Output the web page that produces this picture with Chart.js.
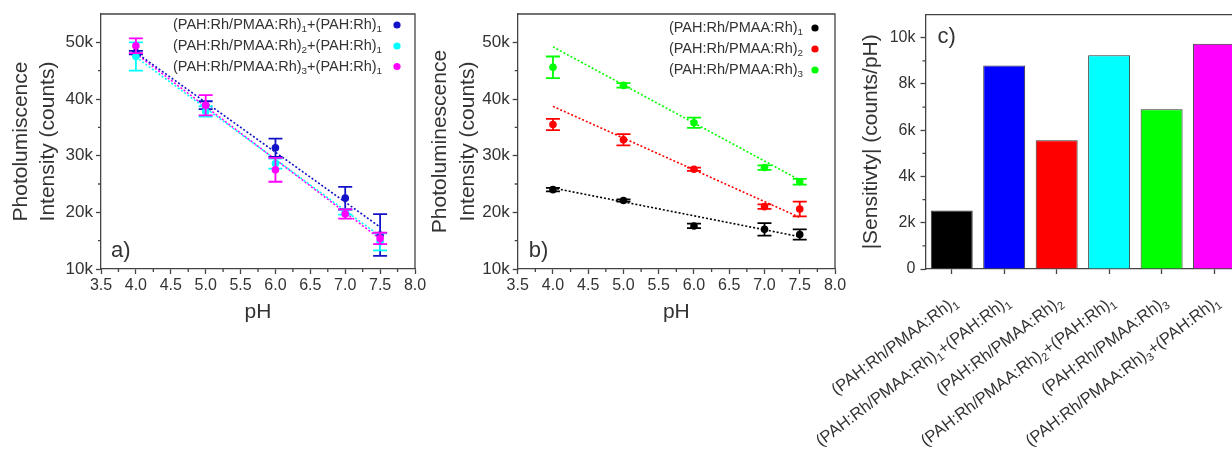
<!DOCTYPE html>
<html>
<head>
<meta charset="utf-8">
<script src="https://cdn.jsdelivr.net/npm/chart.js@4.4.1/dist/chart.umd.min.js"></script>
<style>
  html, body { margin: 0; padding: 0; background: #fff; overflow: hidden; width: 1232px; height: 458px; }
  canvas { position: absolute; top: 0; }
  #chartA { left: 0; }
  #chartB { left: 425px; }
  #chartC { left: 780px; }
</style>
</head>
<body>
<canvas id="chartA" width="430" height="330"></canvas>
<canvas id="chartB" width="425" height="330"></canvas>
<canvas id="chartC" width="480" height="458"></canvas>
<script>
// --- data ---
const phValues = [4.0, 5.0, 6.0, 7.0, 7.5];
const fitPh = [4.0, 7.5];
const phTicks = [3.5, 4.0, 4.5, 5.0, 5.5, 6.0, 6.5, 7.0, 7.5, 8.0];
const phMinorTicks = [3.75, 4.25, 4.75, 5.25, 5.75, 6.25, 6.75, 7.25, 7.75];
const countTicks = [10000, 20000, 30000, 40000, 50000];
const countMinorTicks = [15000, 25000, 35000, 45000];

// panel a
const seriesNamesA = ['(PAH:Rh/PMAA:Rh)_1+(PAH:Rh)_1', '(PAH:Rh/PMAA:Rh)_2+(PAH:Rh)_1', '(PAH:Rh/PMAA:Rh)_3+(PAH:Rh)_1'];
const aLayer1 = [48200, 38900, 31400, 22500, 16000];
const aLayer1Err = [300, 700, 1600, 2000, 3700];
const aLayer2 = [47500, 37800, 28600, 20000, 14800];
const aLayer2Err = [2500, 900, 900, 400, 1500];
const aLayer3 = [49400, 38900, 27500, 19700, 15400];
const aLayer3Err = [1300, 1800, 2100, 800, 1000];
const aFit1 = [48200, 17400];
const aFit2 = [47400, 15800];
const aFit3 = [48000, 15300];

// panel b
const seriesNamesB = ['(PAH:Rh/PMAA:Rh)_1', '(PAH:Rh/PMAA:Rh)_2', '(PAH:Rh/PMAA:Rh)_3'];
const bLayer1 = [24000, 22100, 17600, 17000, 16100];
const bLayer1Err = [300, 200, 400, 1100, 900];
const bLayer2 = [35500, 32800, 27600, 21000, 20600];
const bLayer2Err = [1000, 1000, 300, 400, 1300];
const bLayer3 = [45600, 42400, 35800, 27900, 25400];
const bLayer3Err = [1900, 400, 900, 400, 500];
const bFit1 = [24300, 15700];
const bFit2 = [38700, 19100];
const bFit3 = [49200, 25700];

// panel c
const sensLabels = ['(PAH:Rh/PMAA:Rh)_1', '(PAH:Rh/PMAA:Rh)_1+(PAH:Rh)_1', '(PAH:Rh/PMAA:Rh)_2',
  '(PAH:Rh/PMAA:Rh)_2+(PAH:Rh)_1', '(PAH:Rh/PMAA:Rh)_3', '(PAH:Rh/PMAA:Rh)_3+(PAH:Rh)_1'];
const sensValues = [2530, 8800, 5570, 9240, 6910, 9740];
const sensTicks = [0, 2000, 4000, 6000, 8000, 10000];
const sensMinorTicks = [1000, 3000, 5000, 7000, 9000];

// --- styles ---
const FONT = "'Liberation Sans', Arial, sans-serif";
const TEXT = '#333';
const AXIS = '#444';
const colorsA = ['#1212c8', '#00ffff', '#ff00ff'];
const colorsB = ['#000000', '#ff0000', '#00ff00'];
const barColors = ['#000000', '#0000ff', '#ff0000', '#00ffff', '#00ff00', '#ff00ff'];

Chart.defaults.font.family = FONT;
Chart.defaults.color = TEXT;

const pts = (xs, ys) => xs.map((x, i) => ({x: x, y: ys[i]}));

// text with _n subscripts
function richParts(str) {
  return str.split(/_(\d)/).map((t, i) => ({t: t, sub: i % 2 === 1})).filter(p => p.t);
}
function richWidth(ctx, parts, size) {
  let w = 0;
  parts.forEach(p => {
    ctx.font = (p.sub ? size * 0.68 : size) + 'px ' + FONT;
    w += ctx.measureText(p.t).width;
  });
  return w;
}
function drawRich(ctx, str, x, y, size, align) {
  const parts = richParts(str);
  let cx = align === 'right' ? x - richWidth(ctx, parts, size) : x;
  ctx.textBaseline = 'middle';
  ctx.textAlign = 'left';
  parts.forEach(p => {
    const s = p.sub ? size * 0.68 : size;
    ctx.font = s + 'px ' + FONT;
    ctx.fillText(p.t, cx, p.sub ? y + size * 0.32 : y);
    cx += ctx.measureText(p.t).width;
  });
}

function makeDecor(cfg) {
  return {
    id: 'decor',
    beforeDatasetDraw(chart, args) {
      const ds = chart.data.datasets[args.index];
      if (!ds.errors) return;
      const ctx = chart.ctx, xs = chart.scales.x, ys = chart.scales.y;
      ctx.save();
      ctx.strokeStyle = ds.backgroundColor;
      ctx.lineWidth = 1.8;
      ds.data.forEach((p, i) => {
        const x = xs.getPixelForValue(p.x);
        const y1 = ys.getPixelForValue(p.y + ds.errors[i]);
        const y2 = ys.getPixelForValue(p.y - ds.errors[i]);
        ctx.beginPath();
        ctx.moveTo(x, y1); ctx.lineTo(x, y2);
        ctx.moveTo(x - 7, y1); ctx.lineTo(x + 7, y1);
        ctx.moveTo(x - 7, y2); ctx.lineTo(x + 7, y2);
        ctx.stroke();
      });
      ctx.restore();
    },
    afterDraw(chart) {
      const ctx = chart.ctx, a = chart.chartArea;
      const xs = chart.scales.x, ys = chart.scales.y;
      ctx.save();
      // box frame
      ctx.strokeStyle = AXIS;
      ctx.lineWidth = 1.3;
      ctx.beginPath();
      ctx.moveTo(a.left, a.top); ctx.lineTo(a.right, a.top); ctx.lineTo(a.right, a.bottom);
      ctx.stroke();
      // minor ticks
      ctx.beginPath();
      (cfg.minorX || []).forEach(v => {
        const x = xs.getPixelForValue(v);
        ctx.moveTo(x, a.bottom); ctx.lineTo(x, a.bottom + 3);
      });
      (cfg.minorY || []).forEach(v => {
        const y = ys.getPixelForValue(v);
        ctx.moveTo(a.left, y); ctx.lineTo(a.left - 3, y);
      });
      ctx.stroke();
      // legend
      if (cfg.legend) {
        const L = cfg.legend;
        L.names.forEach((name, i) => {
          const y = a.top + L.rows[i];
          ctx.fillStyle = TEXT;
          drawRich(ctx, name, a.right - L.textRight, y, 14.5, 'right');
          ctx.fillStyle = L.colors[i];
          ctx.beginPath();
          ctx.arc(a.right - L.marker, y, 3.6, 0, Math.PI * 2);
          ctx.fill();
        });
      }
      // panel letter
      ctx.fillStyle = TEXT;
      ctx.font = '22px ' + FONT;
      ctx.textAlign = 'left';
      ctx.textBaseline = 'alphabetic';
      ctx.fillText(cfg.letter, a.left + cfg.letterPos[0], cfg.letterPos[1] < 0 ? a.bottom + cfg.letterPos[1] : a.top + cfg.letterPos[1]);
      // rotated category labels
      if (cfg.rotLabels) {
        cfg.rotLabels.forEach((lab, i) => {
          const x = xs.getPixelForValue(i) + 4;
          const y = a.bottom + 31;
          ctx.save();
          ctx.translate(x, y);
          ctx.rotate(-37 * Math.PI / 180);
          ctx.fillStyle = TEXT;
          drawRich(ctx, lab, 0, 0, 16.5, 'right');
          ctx.restore();
        });
      }
      ctx.restore();
    }
  };
}

function lineScales(yTitle, yWidth, titlePad) {
  return {
    x: {
      type: 'linear', min: 3.5, max: 8.0,
      afterBuildTicks: s => { s.ticks = phTicks.map(v => ({value: v})); },
      afterFit: s => { s.height = 56; },
      ticks: {callback: v => v.toFixed(1), font: {size: 16}, color: TEXT, padding: 2, maxRotation: 0, autoSkip: false},
      grid: {drawOnChartArea: false, tickLength: 5, tickColor: AXIS, tickWidth: 1.3},
      border: {color: AXIS, width: 1.3},
      title: {display: true, text: 'pH', font: {size: 21}, color: TEXT, padding: {top: 0, bottom: 0}}
    },
    y: {
      min: 10000, max: 55000,
      afterBuildTicks: s => { s.ticks = countTicks.map(v => ({value: v})); },
      afterFit: s => { s.width = yWidth; },
      ticks: {callback: v => (v / 1000) + 'k', font: {size: 17}, color: TEXT, padding: 3},
      grid: {drawOnChartArea: false, tickLength: 5, tickColor: AXIS, tickWidth: 1.3},
      border: {color: AXIS, width: 1.3},
      title: {display: true, text: yTitle, font: {size: 21, lineHeight: 1.3}, color: TEXT, padding: {top: titlePad, bottom: 0}}
    }
  };
}

function pointSet(vals, errs, color, order) {
  return {data: pts(phValues, vals), errors: errs, backgroundColor: color, borderWidth: 0,
    pointRadius: 3.8, showLine: false, order: order};
}
function fitSet(vals, color) {
  return {data: pts(fitPh, vals), borderColor: color, borderWidth: 1.6, borderDash: [2, 2],
    pointRadius: 0, showLine: true, fill: false, order: 10};
}

const common = {
  responsive: false, animation: false, events: [],
  plugins: {legend: {display: false}, tooltip: {enabled: false}}
};

new Chart(document.getElementById('chartA'), {
  type: 'scatter',
  data: {datasets: [
    fitSet(aFit1, colorsA[0]), fitSet(aFit2, colorsA[1]), fitSet(aFit3, colorsA[2]),
    pointSet(aLayer1, aLayer1Err, colorsA[0], 3),
    pointSet(aLayer2, aLayer2Err, colorsA[1], 2),
    pointSet(aLayer3, aLayer3Err, colorsA[2], 1)
  ]},
  options: Object.assign({}, common, {
    layout: {padding: {left: 0, right: 15, top: 14, bottom: 5}},
    scales: lineScales(['Photolumiscence', 'Intensity (counts)'], 101, 7.5)
  }),
  plugins: [makeDecor({
    minorX: phMinorTicks, minorY: countMinorTicks,
    legend: {names: seriesNamesA, colors: colorsA, rows: [11, 32, 52.5], textRight: 33, marker: 18},
    letter: 'a)', letterPos: [10, -12]
  })]
});

new Chart(document.getElementById('chartB'), {
  type: 'scatter',
  data: {datasets: [
    fitSet(bFit1, colorsB[0]), fitSet(bFit2, colorsB[1]), fitSet(bFit3, colorsB[2]),
    pointSet(bLayer1, bLayer1Err, colorsB[0], 3),
    pointSet(bLayer2, bLayer2Err, colorsB[1], 2),
    pointSet(bLayer3, bLayer3Err, colorsB[2], 1)
  ]},
  options: Object.assign({}, common, {
    layout: {padding: {left: 0, right: 15, top: 14, bottom: 5}},
    scales: lineScales(['Photoluminescence', 'Intensity (counts)'], 92.7, 2)
  }),
  plugins: [makeDecor({
    minorX: phMinorTicks, minorY: countMinorTicks,
    legend: {names: seriesNamesB, colors: colorsB, rows: [14, 35, 56], textRight: 32, marker: 20},
    letter: 'b)', letterPos: [11, -12]
  })]
});

new Chart(document.getElementById('chartC'), {
  type: 'bar',
  data: {
    labels: sensLabels,
    datasets: [{data: sensValues, backgroundColor: barColors, borderColor: '#333', borderWidth: 1,
      barPercentage: 0.8, categoryPercentage: 1}]
  },
  options: Object.assign({}, common, {
    layout: {padding: {left: 0, right: 19.7, top: 14, bottom: 0}},
    scales: {
      x: {
        type: 'category', offset: true,
        afterFit: s => { s.height = 189; },
        ticks: {display: false},
        grid: {offset: false, drawOnChartArea: false, tickLength: 5, tickColor: AXIS, tickWidth: 1.3},
        border: {color: AXIS, width: 1.3}
      },
      y: {
        min: 0, max: 11000,
        afterBuildTicks: s => { s.ticks = sensTicks.map(v => ({value: v})); },
        afterFit: s => { s.width = 145.5; },
        ticks: {callback: v => v === 0 ? '0' : (v / 1000) + 'k', font: {size: 16}, color: TEXT, padding: 5},
        grid: {drawOnChartArea: false, tickLength: 5, tickColor: AXIS, tickWidth: 1.3},
        border: {color: AXIS, width: 1.3},
        title: {display: true, text: '|Sensitivty| (counts/pH)', font: {size: 21, lineHeight: 1.28}, color: TEXT, padding: {top: 77.5, bottom: 0}}
      }
    }
  }),
  plugins: [makeDecor({
    minorY: sensMinorTicks,
    letter: 'c)', letterPos: [12, 28],
    rotLabels: sensLabels
  })]
});
</script>
</body>
</html>
